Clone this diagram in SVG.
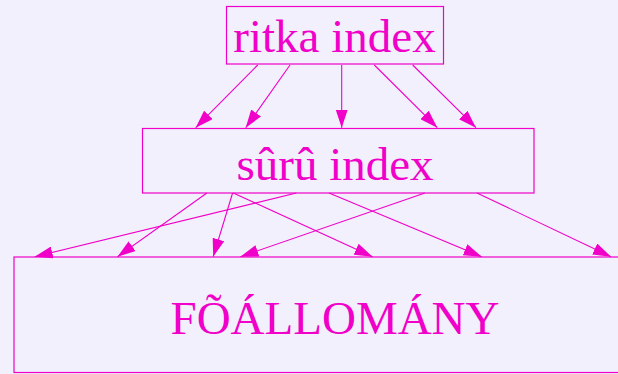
<svg xmlns="http://www.w3.org/2000/svg" width="618" height="374" viewBox="0 0 618 374">
<style>
.box{fill:none;stroke:#f000c8;stroke-width:1.2}
.lbl{font-family:"Liberation Serif","Times New Roman",serif;font-size:47px;fill:#f000c8;text-anchor:middle}
.c line{stroke:#f000c8;stroke-width:1.1;marker-end:url(#ah)}
</style>
<defs>
<marker id="ah" markerUnits="userSpaceOnUse" markerWidth="20" markerHeight="12" refX="18" refY="6" orient="auto">
<path d="M0,0 L18,6 L0,12 z" fill="#f000c8"/>
</marker>
</defs>
<rect width="618" height="374" fill="#f1f0fc"/>
<g id="ritka">
<rect class="box" x="226.5" y="6.5" width="217" height="57.5"/>
<text class="lbl" x="334.5" y="52">ritka index</text>
</g>
<g id="suru">
<rect class="box" x="142.5" y="128.5" width="391.5" height="64.5"/>
<text class="lbl" x="335" y="180">sûrû index</text>
</g>
<g id="fo">
<rect class="box" x="14" y="257" width="620" height="115.5"/>
<text class="lbl" x="335" y="334">FÕÁLLOMÁNY</text>
</g>
<g class="c" id="connectors">
<line x1="257.7" y1="65" x2="195.7" y2="127.7"/>
<line x1="290" y1="65" x2="245.7" y2="127.7"/>
<line x1="341.7" y1="65" x2="341.7" y2="127.7"/>
<line x1="374.3" y1="65" x2="437.3" y2="127.7"/>
<line x1="412.7" y1="65" x2="476" y2="127.7"/>
<line x1="206.9" y1="193" x2="117.5" y2="256.7"/>
<line x1="232.6" y1="193" x2="213.2" y2="256.7"/>
<line x1="233.3" y1="193" x2="372.5" y2="256.7"/>
<line x1="296.4" y1="193" x2="34.7" y2="256.7"/>
<line x1="329" y1="193" x2="481.7" y2="256.7"/>
<line x1="424.9" y1="193" x2="240.4" y2="256.7"/>
<line x1="477" y1="193" x2="611" y2="256.7"/>
</g>
</svg>
